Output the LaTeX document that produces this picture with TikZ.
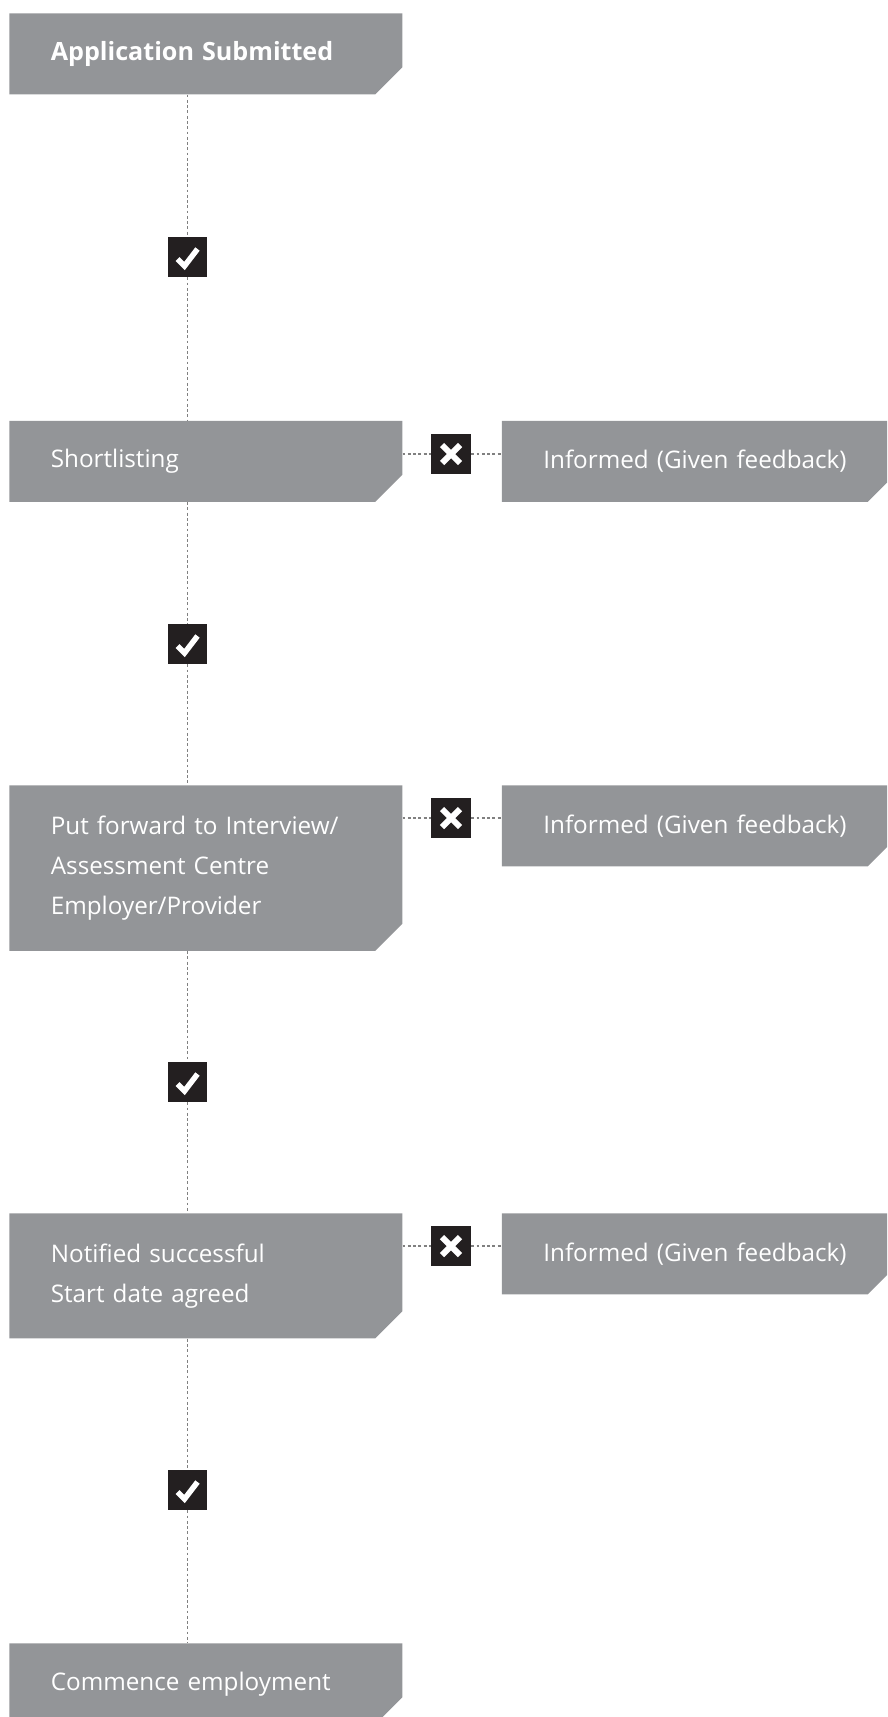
\documentclass[tikz,border=0pt]{standalone}
\usepackage{fontspec}
\setmainfont{Open Sans}
\usepackage{xcolor}
\usepackage{tikz}
\usetikzlibrary{calc,positioning}
\definecolor{stageGray}{HTML}{939598}
\definecolor{markBlack}{HTML}{231F20}
\definecolor{linkGray}{HTML}{808080}

\begin{document}
\begin{tikzpicture}[x=0.02cm,y=-0.02cm,
    stagebox/.style={anchor=north west,minimum width=7.86cm,minimum height=1.62cm,
      inner xsep=0.82cm,inner ysep=0pt,text width=6.2cm,align=left,text=white,
      font=\fontsize{13.8}{22.8}\selectfont,
      path picture={\fill[stageGray] (path picture bounding box.north west)
        -- (path picture bounding box.north east)
        -- ([yshift=0.54cm]path picture bounding box.south east)
        -- ([xshift=-0.54cm]path picture bounding box.south east)
        -- (path picture bounding box.south west) -- cycle;}},
    tick/.style={fill=markBlack,minimum size=0.8cm,inner sep=0pt},
    yesmark/.style={tick,path picture={\draw[white,line width=0.11cm,shift={(path picture bounding box.center)}]
        (-10,2) -- (-3,9) -- (10,-8);}},
    nomark/.style={tick,path picture={\draw[white,line width=0.12cm,shift={(path picture bounding box.center)}]
        (-9,-9) -- (9,9) (-9,9) -- (9,-9);}},
    link/.style={linkGray,line width=0.6pt,dash pattern=on 1.6pt off 1.4pt}]
    \useasboundingbox (0,0) rectangle (887,1717);
    \begin{scope}
    \clip (0,0) rectangle (887,1717);
    \node[stagebox] (apply) at (9,13)
      {\raisebox{-0.04cm}{\fontsize{14.3}{22.8}\selectfont\textbf{Application Submitted}}};
    \node[stagebox] (short) at (9,420.5) {Shortlisting};
    \node[stagebox] (info1) at (501.5,420.5) {Informed (Given feedback)};
    \node[stagebox,minimum height=3.31cm] (put) at (9,785)
      {Put forward to Interview/\\Assessment Centre\\Employer/Provider};
    \node[stagebox] (info2) at (501.5,785) {Informed (Given feedback)};
    \node[stagebox,minimum height=2.5cm] (notify) at (9,1213)
      {Notified successful\\Start date agreed};
    \node[stagebox] (info3) at (501.5,1213) {Informed (Given feedback)};
    \node[stagebox] (start) at (9,1643) {Commence employment};
    \end{scope}
    % yes / no marks
    \node[yesmark] (yes1) at (187.5,257) {};
    \node[yesmark] (yes2) at (187.5,644) {};
    \node[yesmark] (yes3) at (187.5,1082) {};
    \node[yesmark] (yes4) at (187.5,1490) {};
    \node[nomark] (no1) at (451,454) {};
    \node[nomark] (no2) at (451,818) {};
    \node[nomark] (no3) at (451,1246) {};
    \draw[link] (yes1 |- apply.south) -- (yes1) -- (yes1 |- short.north);
    \draw[link] (yes2 |- short.south) -- (yes2) -- (yes2 |- put.north);
    \draw[link] (yes3 |- put.south) -- (yes3) -- (yes3 |- notify.north);
    \draw[link] (yes4 |- notify.south) -- (yes4) -- (yes4 |- start.north);
    \foreach \m/\a/\b in {no1/short/info1,no2/put/info2,no3/notify/info3}
      {\draw[link] (\m -| \a.east) -- (\m) -- (\m -| \b.west);}
  \end{tikzpicture}
\end{document}
